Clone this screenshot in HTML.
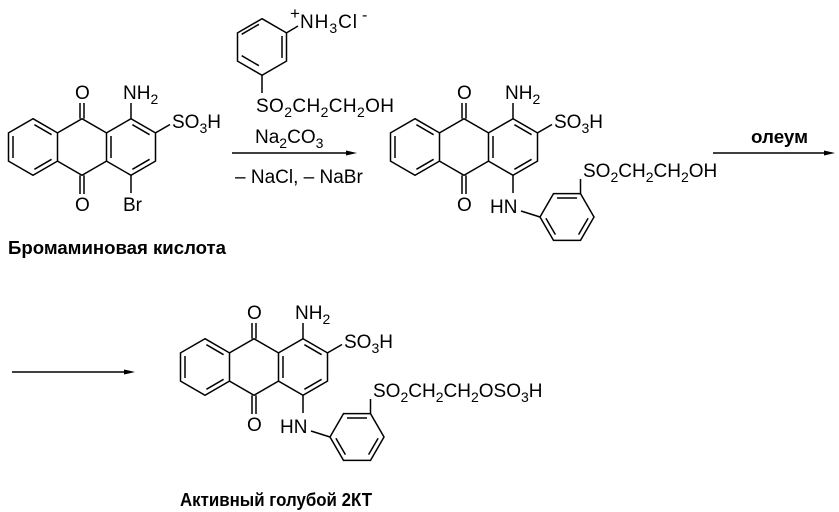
<!DOCTYPE html>
<html><head><meta charset="utf-8"><style>
html,body{margin:0;padding:0;background:#fff;}
svg{display:block;}
text{font-family:"Liberation Sans",Arial,sans-serif;font-size:19px;fill:#000;}
.s{font-size:14px;}
.b{font-weight:bold;font-size:18px;}
</style></head><body>
<svg width="839" height="512" viewBox="0 0 839 512" xmlns="http://www.w3.org/2000/svg">
<defs>
<g id="core" stroke="#000" stroke-width="1.5" fill="none">
<polygon points="33,118.7 57.5,132.9 57.5,161.1 33,175.3 8.5,161.1 8.5,132.9"/>
<polyline points="57.5,132.9 82,118.7 106.5,132.9 106.5,161.1 82,175.3 57.5,161.1"/>
<polyline points="106.5,132.9 131,118.7 155.5,132.9 155.5,161.1 131,175.3 106.5,161.1"/>
<line x1="13" y1="136" x2="13" y2="158"/>
<line x1="51.6" y1="159.3" x2="34.4" y2="169.3"/>
<line x1="34.4" y1="124.7" x2="51.6" y2="134.7"/>
<line x1="111" y1="136" x2="111" y2="158"/>
<line x1="132.4" y1="124.7" x2="149.6" y2="134.7"/>
<line x1="149.6" y1="159.3" x2="132.4" y2="169.3"/>
<line x1="80" y1="103" x2="80" y2="118.7"/><line x1="84" y1="103" x2="84" y2="118.7"/>
<line x1="80" y1="175.3" x2="80" y2="194"/><line x1="84" y1="175.3" x2="84" y2="194"/>
<line x1="131" y1="103" x2="131" y2="118.7"/>
<line x1="155.5" y1="132.9" x2="170" y2="124.5"/>
</g>
<g id="anil" stroke="#000" stroke-width="1.5" fill="none">
<line x1="131" y1="175.3" x2="131" y2="193"/>
<line x1="139" y1="211" x2="158" y2="217"/>
<polygon points="158,217 171.5,193.6 198.5,193.6 212,217 198.5,240.4 171.5,240.4"/>
<line x1="175" y1="198" x2="195" y2="198"/>
<line x1="206.1" y1="218.3" x2="196.6" y2="234.6"/>
<line x1="173.4" y1="234.6" x2="163.9" y2="218.3"/>
<line x1="198.5" y1="193.6" x2="198.5" y2="179"/>
</g>
<g id="lbl">
<text x="75" y="99">O</text>
<text x="75" y="211">O</text>
<text x="123" y="99">NH<tspan class="s" dy="5">2</tspan></text>
<text x="172" y="128">SO<tspan class="s" dy="5">3</tspan><tspan dy="-5">H</tspan></text>
</g>
</defs>

<use href="#core"/><use href="#lbl"/>
<line x1="131" y1="175.3" x2="131" y2="193" stroke="#000" stroke-width="1.5"/>
<text x="123" y="211">Br</text>
<text class="b" x="8" y="254" textLength="218" lengthAdjust="spacingAndGlyphs">Бромаминовая кислота</text>

<g stroke="#000" stroke-width="1.5" fill="none">
<polygon points="262,18.7 286.5,32.9 286.5,61.1 262,75.3 237.5,61.1 237.5,32.9"/>
<line x1="241.4" y1="30.3" x2="258.6" y2="20.3" transform="translate(0.3,4)"/>
<line x1="282" y1="36" x2="282" y2="58"/>
<line x1="258.6" y1="69.7" x2="241.4" y2="59.7" transform="translate(0.3,-4)"/>
<line x1="286.5" y1="32.9" x2="298" y2="26"/>
<line x1="262" y1="75.3" x2="262" y2="93"/>
<line x1="232" y1="153" x2="350" y2="153"/>
</g>
<polygon points="357,153 346,150.5 346,155.5" fill="#000"/>
<text x="290" y="19" style="font-size:17px">+</text>
<text x="300" y="28" textLength="57">NH<tspan class="s" dy="5">3</tspan><tspan dy="-5">Cl</tspan></text>
<text x="362" y="20" style="font-size:16px">-</text>
<text x="256" y="112" textLength="138">SO<tspan class="s" dy="5">2</tspan><tspan dy="-5">CH</tspan><tspan class="s" dy="5">2</tspan><tspan dy="-5">CH</tspan><tspan class="s" dy="5">2</tspan><tspan dy="-5">OH</tspan></text>
<text x="255" y="143">Na<tspan class="s" dy="5">2</tspan><tspan dy="-5">CO</tspan><tspan class="s" dy="5">3</tspan></text>
<text x="235" y="183">– NaCl, – NaBr</text>

<g transform="translate(382,0)">
<use href="#core"/><use href="#lbl"/><use href="#anil"/>
<text x="108" y="213">HN</text>
<text x="201" y="177">SO<tspan class="s" dy="5">2</tspan><tspan dy="-5">CH</tspan><tspan class="s" dy="5">2</tspan><tspan dy="-5">CH</tspan><tspan class="s" dy="5">2</tspan><tspan dy="-5">OH</tspan></text>
</g>

<line x1="713" y1="153" x2="828" y2="153" stroke="#000" stroke-width="1.5"/>
<polygon points="835,153 824,150.5 824,155.5" fill="#000"/>
<text class="b" x="751" y="143" textLength="57" lengthAdjust="spacingAndGlyphs">олеум</text>

<line x1="12" y1="372" x2="128" y2="372" stroke="#000" stroke-width="1.5"/>
<polygon points="135,372 124,369.5 124,374.5" fill="#000"/>

<g transform="translate(172,220)">
<use href="#core"/><use href="#lbl"/><use href="#anil"/>
<text x="108" y="213">HN</text>
<text x="201" y="177">SO<tspan class="s" dy="5">2</tspan><tspan dy="-5">CH</tspan><tspan class="s" dy="5">2</tspan><tspan dy="-5">CH</tspan><tspan class="s" dy="5">2</tspan><tspan dy="-5">OSO</tspan><tspan class="s" dy="5">3</tspan><tspan dy="-5">H</tspan></text>
</g>
<text class="b" x="180" y="506" textLength="192" lengthAdjust="spacingAndGlyphs">Активный голубой 2КТ</text>
</svg>
</body></html>
